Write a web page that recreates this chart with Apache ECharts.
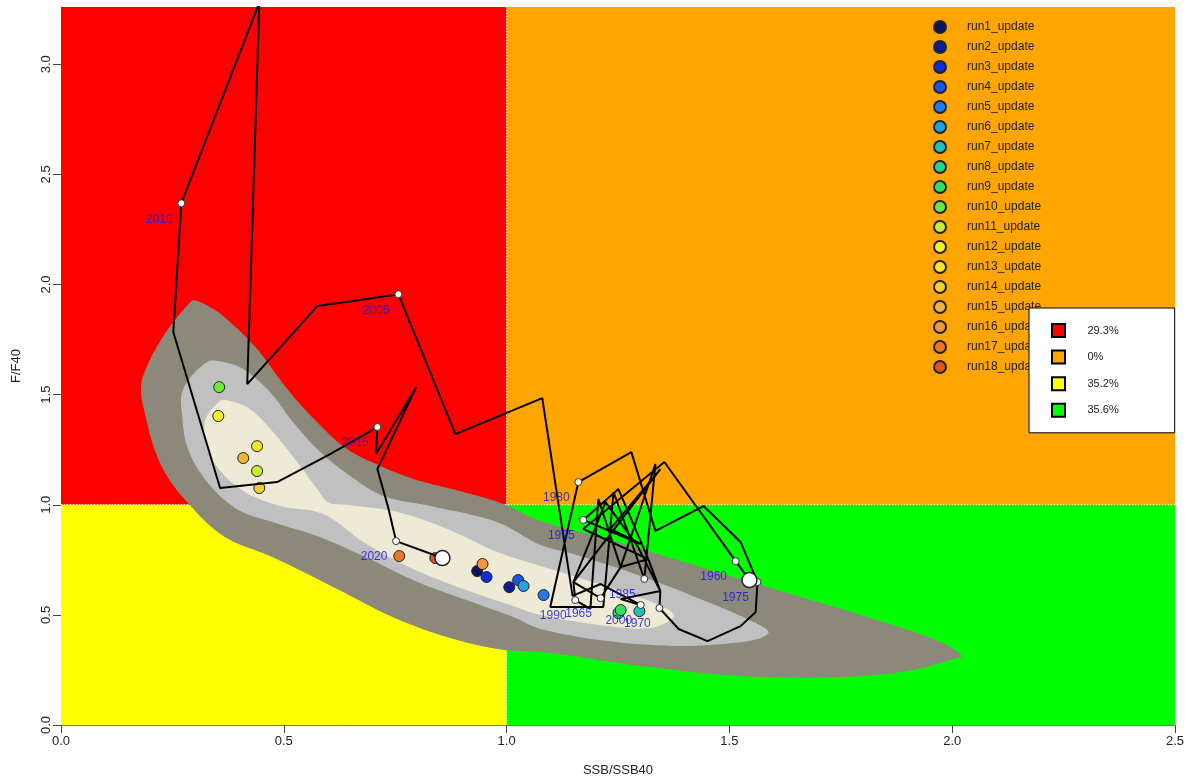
<!DOCTYPE html>
<html><head><meta charset="utf-8">
<script src="https://cdn.jsdelivr.net/npm/echarts@6/dist/echarts.min.js"></script>
<style>html,body{margin:0;padding:0;background:#fff}#c{width:1190px;height:782px}</style>
</head><body><div id="c"></div>
<script>
// ---------- data ----------
const xTicks = [0, 0.5, 1, 1.5, 2, 2.5];
const yTicks = [0, 0.5, 1, 1.5, 2, 2.5, 3];
const xMax = 2.5;
const yMax = 3.26;

const trajYears = [1959,1960,1961,1962,1963,1964,1965,1966,1967,1968,1969,1970,1971,1972,1973,1974,1975,1976,1977,1978,1979,1980,1981,1982,1983,1984,1985,1986,1987,1988,1989,1990,1991,1992,1993,1994,1995,1996,1997,1998,1999,2000,2001,2002,2003,2004,2005,2006,2007,2008,2009,2010,2011,2012,2013,2014,2015,2016,2017,2018,2019,2020,2021];
const trajSSB = [1.545,1.514,1.354,1.172,1.318,1.256,1.211,1.150,1.222,1.294,1.345,1.343,1.386,1.451,1.525,1.559,1.563,1.525,1.442,1.334,1.280,1.161,1.098,1.217,1.240,1.278,1.309,1.334,1.256,1.206,1.188,1.154,1.150,1.345,1.233,1.301,1.172,1.251,1.318,1.345,1.256,1.301,1.211,1.148,1.080,0.885,0.757,0.667,0.575,0.418,0.445,0.270,0.252,0.357,0.485,0.604,0.710,0.707,0.797,0.710,0.734,0.752,0.856];
const trajF = [0.658,0.744,1.194,0.890,0.753,0.717,0.576,0.649,1.012,0.812,0.608,0.531,0.436,0.381,0.449,0.513,0.649,0.831,0.994,0.881,1.239,1.103,0.536,0.536,1.058,0.844,0.663,1.185,0.717,1.026,0.527,0.567,0.649,1.162,0.890,0.822,0.931,1.071,0.753,0.608,0.572,0.545,0.640,0.586,1.484,1.321,1.956,1.929,1.902,1.548,3.28,2.369,1.784,1.076,1.103,1.230,1.353,1.230,1.534,1.162,0.990,0.835,0.758];

const runNames = ['run1_update','run2_update','run3_update','run4_update','run5_update','run6_update','run7_update','run8_update','run9_update','run10_update','run11_update','run12_update','run13_update','run14_update','run15_update','run16_update','run17_update','run18_update'];
const runSSB = [0.934,1.006,0.955,1.026,1.083,1.038,1.298,1.251,1.256,0.355,0.440,0.353,0.440,0.445,0.409,0.946,0.759,0.840];
const runF   = [0.699,0.626,0.672,0.658,0.590,0.631,0.517,0.508,0.522,1.534,1.153,1.403,1.266,1.076,1.212,0.731,0.767,0.758];

const quadNames = ['29.3%','0%','35.2%','35.6%'];
const quadSSB0 = [0, 1, 0, 1];
const quadSSB1 = [1, 2.5, 1, 2.5];
const quadF0 = [1, 1, 0, 0];
const quadF1 = [3.26, 3.26, 1, 1];

const contourOuter = [[0.290,1.920],[0.184,1.584],[0.193,1.375],[0.229,1.162],[0.283,1.012],[0.364,0.858],[0.469,0.767],[0.544,0.695],[0.633,0.604],[0.739,0.495],[0.858,0.404],[0.979,0.345],[1.098,0.327],[1.301,0.268],[1.525,0.222],[1.750,0.218],[1.900,0.245],[2.004,0.300],[2.022,0.313],[1.974,0.377],[1.824,0.481],[1.676,0.572],[1.525,0.663],[1.375,0.754],[1.226,0.844],[1.076,0.926],[0.993,1.003],[0.903,1.058],[0.791,1.117],[0.717,1.176],[0.642,1.253],[0.575,1.375],[0.508,1.525],[0.440,1.707],[0.380,1.829],[0.335,1.897]];
const contourMid = [[0.328,1.648],[0.274,1.525],[0.272,1.403],[0.285,1.253],[0.328,1.103],[0.395,0.980],[0.476,0.921],[0.575,0.858],[0.678,0.767],[0.800,0.649],[0.903,0.572],[1.015,0.490],[1.076,0.436],[1.226,0.381],[1.375,0.359],[1.487,0.368],[1.563,0.390],[1.588,0.422],[1.554,0.468],[1.451,0.558],[1.301,0.676],[1.150,0.776],[1.076,0.817],[0.979,0.921],[0.829,0.994],[0.723,1.040],[0.649,1.130],[0.582,1.239],[0.521,1.375],[0.469,1.512],[0.409,1.616],[0.364,1.648]];
const contourInner = [[0.357,1.471],[0.323,1.375],[0.335,1.221],[0.402,1.071],[0.492,0.994],[0.575,0.967],[0.620,0.921],[0.678,0.831],[0.791,0.708],[0.903,0.617],[1.015,0.540],[1.076,0.499],[1.226,0.449],[1.323,0.440],[1.375,0.490],[1.361,0.527],[1.262,0.604],[1.150,0.676],[1.076,0.722],[0.979,0.785],[0.867,0.890],[0.755,0.967],[0.640,1.000],[0.600,1.010],[0.575,1.071],[0.530,1.194],[0.476,1.330],[0.425,1.434],[0.380,1.471]];

// ---------- styles ----------
const runColors = ['#0a1560','#0b1d99','#0d2ed6','#1a56ea','#1f7bef','#21a3e3','#1fc2bd','#22d68a','#33e05a','#6aea3a','#c7ef2e','#f3f22b','#f7e42c','#f2cf2a','#f1b535','#f0983a','#ee7626','#e6501e'];
const quadColors = ['#ff0000','#ffa500','#ffff00','#00ff00'];
const contourColors = ['#8c897b','#c0c0c0','#eeead6'];
const FONT = 'Liberation Sans, Arial, sans-serif';

const chart = echarts.init(document.getElementById('c'), null, {renderer:'canvas'});
const series = [];

quadNames.forEach((n,i)=>{
  series.push({
    name:n, type:'custom', z:1, silent:true, clip:true,
    itemStyle:{color:quadColors[i], borderColor:'#000', borderWidth:1},
    encode:{x:[0,2], y:[1,3]},
    data:[[quadSSB0[i], quadF0[i], quadSSB1[i], quadF1[i]]],
    renderItem:(p,api)=>{
      const a=api.coord([api.value(0),api.value(1)]);
      const b=api.coord([api.value(2),api.value(3)]);
      return {type:'rect', shape:{x:a[0], y:b[1], width:b[0]-a[0], height:a[1]-b[1]}, style:{fill:quadColors[i]}};
    }
  });
});

// reference dotted lines
series.push({type:'line', z:2, silent:true, symbol:'none', data:[[1,0],[1,yMax]], lineStyle:{color:'#fff', width:1, type:[1,2]}});
series.push({type:'line', z:2, silent:true, symbol:'none', data:[[0,1],[xMax,1]], lineStyle:{color:'#fff', width:1, type:[1,2]}});

[contourOuter, contourMid, contourInner].forEach((poly,i)=>{
  series.push({
    type:'custom', z:3, silent:true, clip:true,
    encode:{x:0,y:1}, data:[poly[0]],
    renderItem:(p,api)=>({type:'polygon', shape:{points:poly.map(pt=>api.coord(pt)), smooth:0.35}, style:{fill:contourColors[i]}})
  });
});

runNames.forEach((n,i)=>{
  series.push({
    name:n, type:'scatter', z:4, silent:true,
    symbol:'circle', symbolSize:11,
    itemStyle:{color:runColors[i], borderColor:'#222', borderWidth:1, opacity:1},
    data:[[runSSB[i], runF[i]]]
  });
});

series.push({
  type:'line', z:5, silent:true, symbol:'none', clip:true,
  data: trajSSB.map((x,i)=>[x, trajF[i]]),
  lineStyle:{color:'#000', width:2}
});

const labelled = trajYears.map((y,i)=>[trajSSB[i], trajF[i], y]).filter(d=>d[2]%5===0);
series.push({
  type:'scatter', z:6, silent:true, symbol:'circle', symbolSize:7,
  itemStyle:{color:'#fff', borderColor:'#333', borderWidth:1, opacity:1},
  data: labelled,
  label:{show:true, position:'inside', offset:[-22,16], formatter:p=>String(p.value[2]), color:'rgba(25,25,210,0.85)', fontSize:12, fontFamily:FONT}
});

const last = trajSSB.length-1;
series.push({
  type:'scatter', z:7, silent:true, symbol:'circle', symbolSize:15,
  itemStyle:{color:'#fff', borderColor:'#222', borderWidth:1.5, opacity:1},
  data:[[trajSSB[0], trajF[0]], [trajSSB[last], trajF[last]]]
});

chart.setOption({
  animation:false,
  backgroundColor:'#fff',
  grid:{left:61, right:15, top:7, bottom:56},
  xAxis:{
    type:'value', min:0, max:xMax, interval:0.5,
    splitLine:{show:false},
    axisLine:{show:true, onZero:false, lineStyle:{color:'#777', width:1}},
    axisTick:{show:true, length:8, lineStyle:{color:'#444'}, customValues:xTicks},
    axisLabel:{fontSize:13, color:'#222', margin:10, fontFamily:FONT, customValues:xTicks, formatter:v=>Number(v).toFixed(1)},
    name:'SSB/SSB40', nameLocation:'middle', nameGap:39,
    nameTextStyle:{fontSize:13, color:'#222', fontFamily:FONT}
  },
  yAxis:{
    type:'value', min:0, max:yMax, interval:0.5,
    splitLine:{show:false},
    axisLine:{show:true, onZero:false, lineStyle:{color:'#777', width:1}},
    axisTick:{show:true, length:8, lineStyle:{color:'#444'}, customValues:yTicks},
    axisLabel:{fontSize:13, color:'#222', margin:8, rotate:90, fontFamily:FONT, customValues:yTicks, formatter:v=>Number(v).toFixed(1)},
    name:'F/F40', nameLocation:'middle', nameGap:38, nameRotate:90,
    nameTextStyle:{fontSize:13, color:'#222', fontFamily:FONT}
  },
  legend:[
    {
      data:runNames, orient:'vertical', left:933, top:20, padding:0,
      itemWidth:44, itemHeight:12, itemGap:6, icon:'circle', selectedMode:false, z:4,
      textStyle:{fontSize:12, color:'#222', fontFamily:FONT}
    },
    {
      data:quadNames, orient:'vertical', left:1029, top:308, padding:[15,56,15,22],
      itemWidth:48, itemHeight:13, itemGap:11.6, icon:'path://M0,0L10,0L10,10L0,10Z', symbolKeepAspect:true,
      backgroundColor:'#fff', borderColor:'#000', borderWidth:1, borderRadius:0, selectedMode:false, z:10,
      textStyle:{fontSize:11, color:'#222', fontFamily:FONT}
    }
  ],
  series
});
</script></body></html>
